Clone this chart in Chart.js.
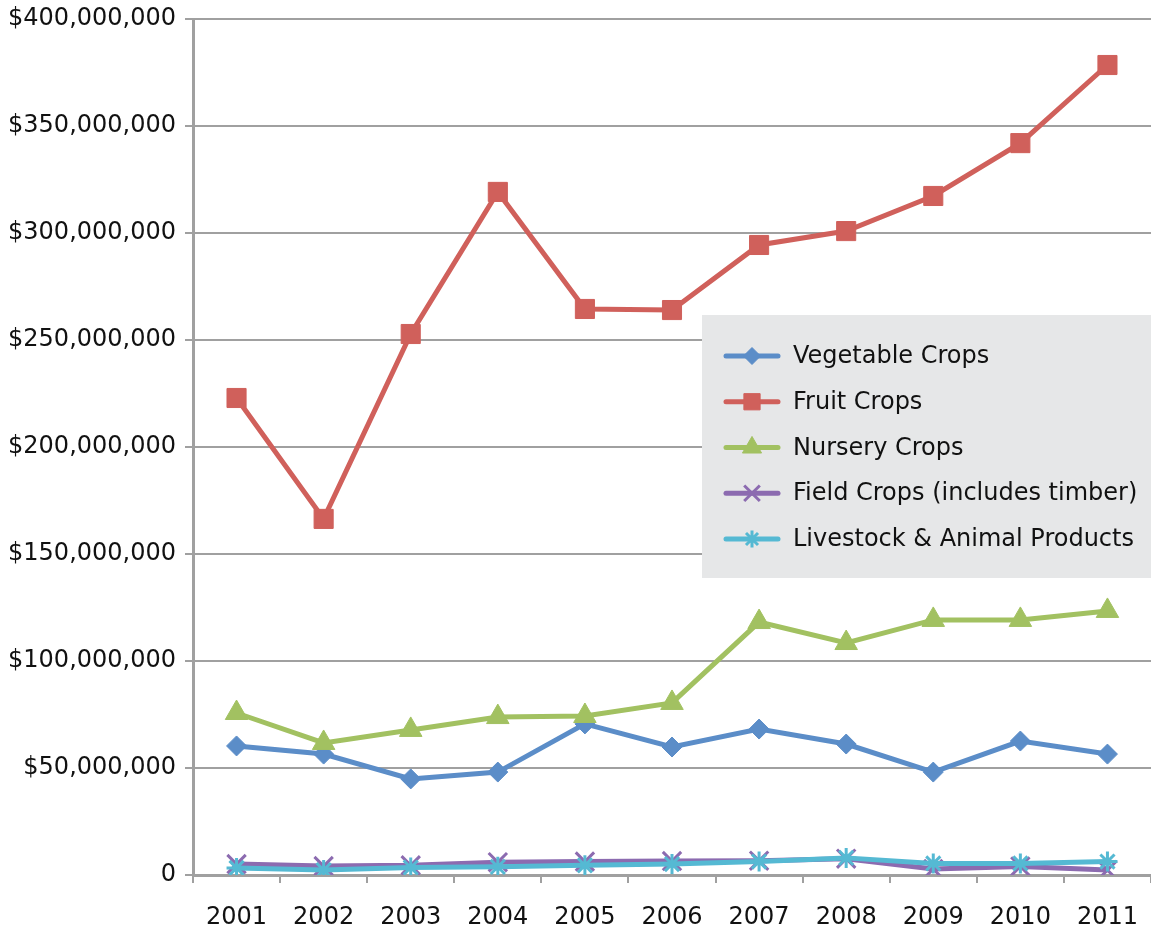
<!DOCTYPE html>
<html>
<head>
<meta charset="utf-8">
<script src="https://cdn.jsdelivr.net/npm/chart.js@4.4.1/dist/chart.umd.min.js"></script>
<style>
  html, body { margin: 0; padding: 0; background: #ffffff; overflow: hidden; }
  #wrap { width: 1151px; height: 933px; position: relative; overflow: hidden; }
  canvas { display: block; }
</style>
</head>
<body>
<div id="wrap"><canvas id="c"></canvas></div>
<script>
const years = ['2001','2002','2003','2004','2005','2006','2007','2008','2009','2010','2011'];
const vegetableCrops = [60300000, 56500000, 44900000, 48100000, 70600000, 59800000, 68200000, 61200000, 48100000, 62600000, 56500000];
const fruitCrops     = [222900000, 166400000, 252800000, 319200000, 264500000, 264000000, 294400000, 300900000, 317300000, 342000000, 378500000];
const nurseryCrops   = [75700000, 61700000, 67800000, 73800000, 74300000, 80400000, 118200000, 108400000, 119200000, 119200000, 123400000];
const fieldCrops     = [5100000, 4200000, 4500000, 6000000, 6300000, 6500000, 6700000, 7600000, 2800000, 4000000, 2300000];
const livestock      = [3300000, 2300000, 3500000, 3800000, 4500000, 5100000, 6300000, 8000000, 5400000, 5400000, 6300000];
const seriesNames = ['Vegetable Crops', 'Fruit Crops', 'Nursery Crops', 'Field Crops (includes timber)', 'Livestock & Animal Products'];
const yTicks = [0, 50000000, 100000000, 150000000, 200000000, 250000000, 300000000, 350000000, 400000000];

const FONT = '"DejaVu Sans", sans-serif';
const colors = ['#5b8dc8', '#d0605b', '#a2c161', '#8c6bb0', '#55b9d3'];
const styles = [
  { pointStyle: 'rectRot', radius: 10, pbw: 1 },
  { pointStyle: 'rect', radius: 13.5, pbw: 1 },
  { pointStyle: 'triangle', radius: 13, pbw: 1 },
  { pointStyle: 'crossRot', radius: 13, pbw: 3 },
  { pointStyle: 'star', radius: 10, pbw: 3 }
];
const seriesData = [vegetableCrops, fruitCrops, nurseryCrops, fieldCrops, livestock];

const datasets = seriesData.map((d, i) => ({
  label: seriesNames[i],
  data: d,
  borderColor: colors[i],
  backgroundColor: colors[i],
  borderWidth: 5,
  tension: 0,
  pointStyle: styles[i].pointStyle,
  pointRadius: styles[i].radius,
  pointHoverRadius: styles[i].radius,
  pointBorderWidth: styles[i].pbw,
  pointBackgroundColor: colors[i],
  pointBorderColor: colors[i],
  order: 4 - i
}));

const customLegend = {
  id: 'customLegend',
  afterDraw(chart) {
    const ctx = chart.ctx;
    const bx = 702, by = 315, bw = 449, bh = 263;
    ctx.save();
    ctx.fillStyle = '#e6e7e8';
    ctx.fillRect(bx, by, bw, bh);
    const rowY0 = 356, rowStep = 45.75;
    chart.data.datasets.forEach((ds, i) => {
      const y = rowY0 + i * rowStep;
      ctx.strokeStyle = ds.borderColor;
      ctx.lineWidth = 5;
      ctx.lineCap = 'round';
      ctx.beginPath();
      ctx.moveTo(726, y);
      ctx.lineTo(778, y);
      ctx.stroke();
      ctx.fillStyle = ds.backgroundColor;
      ctx.strokeStyle = ds.borderColor;
      ctx.lineWidth = ds.pointBorderWidth;
      ctx.lineCap = 'butt';
      Chart.helpers.drawPoint(ctx, {
        pointStyle: ds.pointStyle,
        radius: ds.pointRadius * 0.85,
        rotation: 0,
        borderWidth: ds.pointBorderWidth
      }, 752, y);
      ctx.fillStyle = '#111111';
      ctx.font = '24px ' + FONT;
      ctx.textBaseline = 'middle';
      ctx.textAlign = 'left';
      ctx.fillText(ds.label, 793, y + 1);
    });
    ctx.restore();
  }
};

function zeroPad(scale) {
  scale.paddingLeft = 0; scale.paddingRight = 0;
  scale.paddingTop = 0; scale.paddingBottom = 0;
}

new Chart(document.getElementById('c'), {
  type: 'line',
  data: { labels: years, datasets },
  options: {
    responsive: true,
    maintainAspectRatio: false,
    animation: false,
    events: [],
    layout: { autoPadding: false, padding: { top: 19, right: -6, left: 0, bottom: 0 } },
    plugins: {
      legend: { display: false },
      tooltip: { enabled: false }
    },
    scales: {
      x: {
        offset: true,
        grid: {
          display: true,
          drawOnChartArea: false,
          drawTicks: true,
          tickLength: 8,
          color: '#a0a0a0',
          lineWidth: 2,
          offset: true
        },
        border: { display: true, color: '#a0a0a0', width: 3 },
        ticks: {
          color: '#111111',
          font: { family: FONT, size: 24 },
          padding: 20,
          maxRotation: 0,
          autoSkip: false
        },
        afterFit(scale) { scale.height = 58; zeroPad(scale); }
      },
      y: {
        min: 0,
        max: 400000000,
        afterBuildTicks(scale) { scale.ticks = yTicks.map(v => ({ value: v })); },
        grid: {
          color: '#a0a0a0',
          lineWidth: 2,
          drawTicks: true,
          tickLength: 8
        },
        border: { display: true, color: '#a0a0a0', width: 3 },
        ticks: {
          color: '#111111',
          font: { family: FONT, size: 24 },
          padding: 9,
          callback: v => v === 0 ? '0' : '$' + v.toLocaleString('en-US')
        },
        afterFit(scale) { scale.width = 193; zeroPad(scale); }
      }
    }
  },
  plugins: [customLegend]
});
</script>
</body>
</html>
